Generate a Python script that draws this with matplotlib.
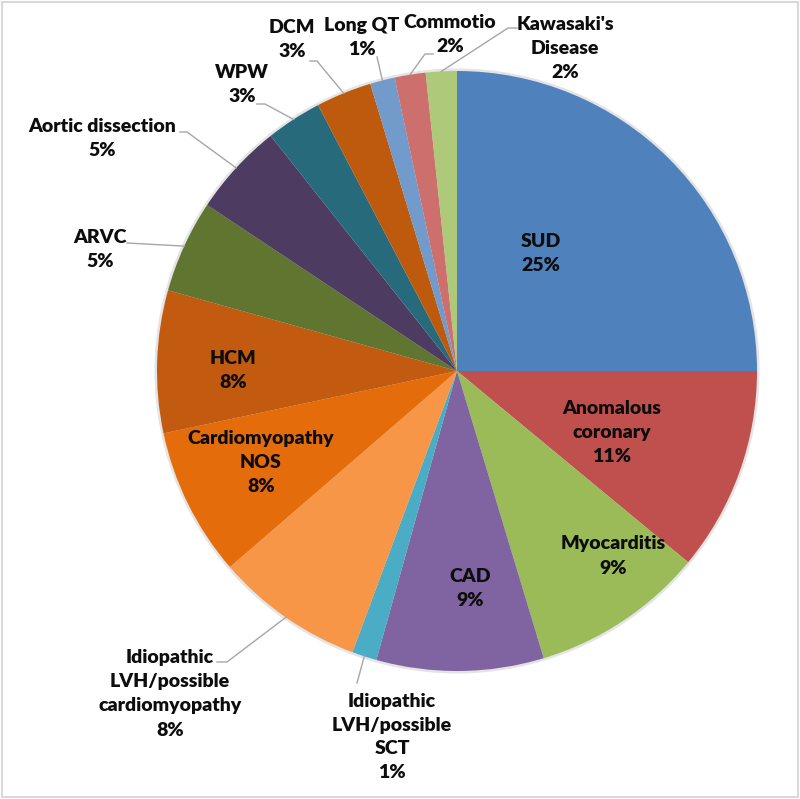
"""Pie chart: causes of sudden cardiac death, Excel-style labels with leader lines."""
import matplotlib.pyplot as plt
import numpy as np
from matplotlib.patches import Circle, Rectangle

# estimated case counts (share of total)
CAUSES = [
    "SUD", "Anomalous\ncoronary", "Myocarditis", "CAD",
    "Idiopathic\nLVH/possible\nSCT", "Idiopathic\nLVH/possible\ncardiomyopathy",
    "Cardiomyopathy\nNOS", "HCM", "ARVC", "Aortic dissection", "WPW", "DCM",
    "Long QT", "Commotio", "Kawasaki's\nDisease",
]
COUNTS = [75, 33, 28, 27, 4, 24, 24, 23, 15, 15, 9, 9, 4, 5, 5]
COLORS = [
    "#4F81BD", "#C0504D", "#9BBB59", "#8064A2", "#4BACC6", "#F79646",
    "#E46C0A", "#C25A10", "#5F7530", "#4D3B62", "#276A7C", "#BE5A0E",
    "#729ACA", "#CD6F6C", "#AFC97A",
]

# pie geometry in pixels (800x799 canvas)
CX, CY, R = 457, 371, 300

# label centre in px, leader start / elbow in px (None = label inside the slice)
LABEL_POS = [
    (541, 254), (612, 433), (613, 556), (470, 588), (392, 737), (170, 694),
    (261, 463), (233, 371), (100, 250), (102, 139), (242, 85), (292, 40),
    (362, 38), (450, 35), (565, 49),
]
LEADERS = [
    None, None, None, None,
    [(357, 683)],
    [(217, 662), (227, 662)],
    None, None,
    [(127, 243)],
    [(180, 132), (187, 132)],
    [(257, 104), (265, 104)],
    [(310, 61), (317, 61)],
    [(377, 57)],
    [(433, 54), (425, 54)],
    [(517, 28), (508, 28)],
]


def px(x, y):
    return (x - CX) / R, (CY - y) / R


def main() -> None:
    fig = plt.figure(figsize=(8, 7.99), dpi=100)
    ax = fig.add_axes([0, 0, 1, 1])

    # soft edge like the Excel shadow
    ax.add_patch(Circle((0, 0), 1.006, color="#e4e4e4", zorder=0))
    wedges, _ = ax.pie(COUNTS, colors=COLORS, startangle=90, counterclock=False,
                       radius=1.0, wedgeprops=dict(linewidth=0))

    total = sum(COUNTS)
    cum = np.cumsum([0] + COUNTS)
    for i, (name, n) in enumerate(zip(CAUSES, COUNTS)):
        pct = f"{round(n / total * 100)}%"
        tx, ty = px(*LABEL_POS[i])
        ax.text(tx, ty, f"{name}\n{pct}", ha="center", va="center",
                fontsize=14, fontweight="heavy", family="Lato",
                color="#0d0d0d", linespacing=1.5, zorder=5)
        if LEADERS[i] is not None:
            mid = np.deg2rad(90 - (cum[i] + n / 2) / total * 360)
            pts = [px(*p) for p in LEADERS[i]] + [(np.cos(mid), np.sin(mid))]
            xs, ys = zip(*pts)
            ax.plot(xs, ys, color="#a6a6a6", lw=1.0, zorder=4)

    ax.set_aspect("auto")
    ax.set_xlim(-CX / R, (800 - CX) / R)
    ax.set_ylim((CY - 799) / R, CY / R)
    ax.axis("off")

    # thin grey chart-area frame
    fig.patches.append(Rectangle((0.002, 0.002), 0.996, 0.996, transform=fig.transFigure,
                                 fill=False, edgecolor="#d9d9d9", lw=1.5))
    fig.savefig("out.png", dpi=100, facecolor="white")


if __name__ == "__main__":
    main()
